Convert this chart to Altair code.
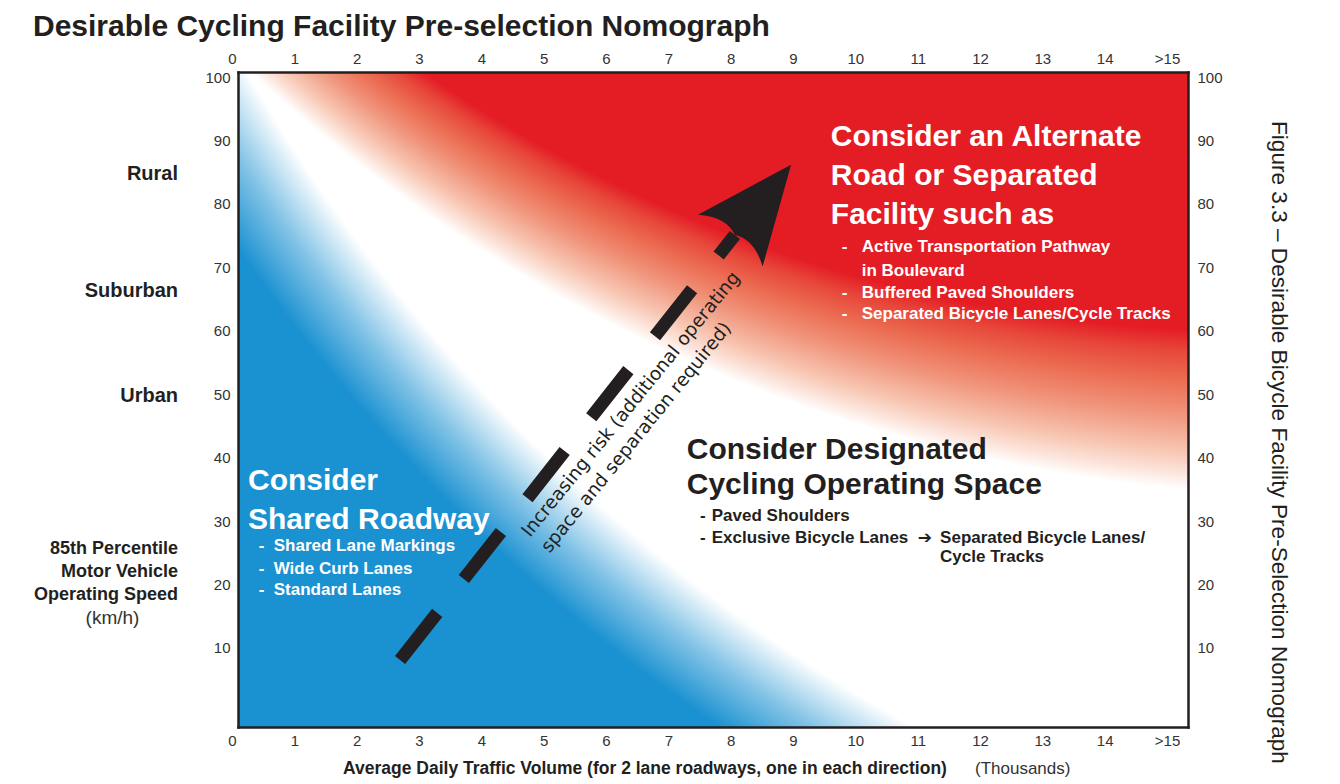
import altair as alt
import pandas as pd

# ---------------- data ----------------
x_ticks = list(range(0, 16))            # ADT, thousands (15 is shown as ">15")
y_ticks = list(range(10, 101, 10))      # 85th percentile speed, km/h

setting_names = ["Rural", "Suburban", "Urban"]
setting_speeds = [84.7, 66.3, 49.7]

arrow_adt = [2.60, 7.97]
arrow_speed = [8.10, 75.10]

risk_text = ["Increasing risk (additional operating\nspace and separation required)"]
risk_adt = [4.685]
risk_speed = [27.34]

shared_title = ["Consider", "Shared Roadway"]
shared_title_adt = [0.16, 0.16]
shared_title_speed = [36.32, 30.17]
shared_items = ["Shared Lane Markings", "Wide Curb Lanes", "Standard Lanes"]
shared_items_adt = [0.573, 0.573, 0.573]
shared_items_speed = [26.07, 22.45, 19.14]
shared_bullet_adt = [0.332, 0.332, 0.332]

alt_title = ["Consider an Alternate", "Road or Separated", "Facility such as"]
alt_title_adt = [9.51, 9.51, 9.51]
alt_title_speed = [90.47, 84.40, 78.25]
alt_items = ["Active Transportation Pathway", "in Boulevard",
             "Buffered Paved Shoulders", "Separated Bicycle Lanes/Cycle Tracks"]
alt_items_adt = [10.006, 10.006, 10.006, 10.006]
alt_items_speed = [73.25, 69.42, 66.03, 62.64]
alt_bullet_adt = [9.686, 9.686, 9.686]
alt_bullet_speed = [73.25, 66.03, 62.64]

des_title = ["Consider Designated", "Cycling Operating Space"]
des_title_adt = [7.199, 7.199]
des_title_speed = [41.21, 35.69]
des_items = ["Paved Shoulders", "Exclusive Bicycle Lanes",
             "Separated Bicycle Lanes/", "Cycle Tracks"]
des_items_adt = [7.60, 7.60, 11.263, 11.263]
des_items_speed = [30.80, 27.41, 27.41, 24.34]
des_bullet_adt = [7.412, 7.412]
des_bullet_speed = [30.80, 27.41]
des_arrow_adt = [11.02]
des_arrow_speed = [27.41]

# ---------------- styling ----------------
W, H = 950, 655
X_DOMAIN = [0, 15.24]
Y_DOMAIN = [-2.46, 100.79]
INK = "#231f20"
GREY = "#333333"
RED = "#e41d25"
BLUE = "26,145,209"
FONT = "Liberation Sans"

XS = alt.Scale(domain=X_DOMAIN, nice=False, zero=False)
YS = alt.Scale(domain=Y_DOMAIN, nice=False, zero=False)


def axis_x(orient, pad):
    return alt.Axis(orient=orient, values=x_ticks,
                    labelExpr="datum.value == 15 ? '>15' : datum.label",
                    labelOffset=-6, labelPadding=pad, labelFlush=False,
                    labelOverlap=False, ticks=False, grid=False, domain=True,
                    domainColor=INK, domainWidth=2.5, domainCap="square",
                    labelFont=FONT, labelFontSize=15, labelColor=GREY,
                    title=None, zindex=1)


def axis_y(orient, pad):
    return alt.Axis(orient=orient, values=y_ticks, labelPadding=pad,
                    labelOverlap=False, labelFlush=False, ticks=False,
                    grid=False, domain=True, domainColor=INK, domainWidth=2.5,
                    domainCap="square", labelFont=FONT, labelFontSize=15,
                    labelColor=GREY, title=None, zindex=1)


bg = pd.DataFrame({"x0": [X_DOMAIN[0]], "x1": [X_DOMAIN[1]],
                   "y0": [Y_DOMAIN[0]], "y1": [Y_DOMAIN[1]]})

# red band: nested circles (inner = solid-red edge, outer = white edge)
red_grad = alt.RadialGradient(
    gradient="radial",
    x1=1.06842, y1=-1.10579, r1=1.53368,
    x2=1.14895, y2=-1.06632, r2=1.66842,
    stops=[alt.GradientStop(offset=0, color=RED),
           alt.GradientStop(offset=0.13, color="#e7463a"),
           alt.GradientStop(offset=0.30, color="#eb6a50"),
           alt.GradientStop(offset=0.52, color="#f0937a"),
           alt.GradientStop(offset=0.75, color="#f7c4b0"),
           alt.GradientStop(offset=0.90, color="#fce6dd"),
           alt.GradientStop(offset=1, color="#ffffff")])

blue_grad = alt.RadialGradient(
    gradient="radial",
    x1=1.59684, y1=-0.75947, r1=1.83158,
    x2=1.59684, y2=-0.75947, r2=1.94,
    stops=[alt.GradientStop(offset=0, color=f"rgba({BLUE},0)"),
           alt.GradientStop(offset=0.5, color=f"rgba({BLUE},0.55)"),
           alt.GradientStop(offset=1, color=f"rgb({BLUE})")])

red_bg = alt.Chart(bg).mark_rect(fill=red_grad, strokeWidth=0).encode(
    x=alt.X("x0:Q", scale=XS, axis=axis_x("bottom", 6)), x2="x1",
    y=alt.Y("y0:Q", scale=YS, axis=axis_y("left", 8)), y2="y1")

blue_bg = alt.Chart(bg).mark_rect(fill=blue_grad, strokeWidth=0).encode(
    x=alt.X("x0:Q", scale=XS, axis=None), x2="x1",
    y=alt.Y("y0:Q", scale=YS, axis=None), y2="y1")

arrow_df = pd.DataFrame({"adt": arrow_adt, "speed": arrow_speed})
shaft = alt.Chart(arrow_df).mark_line(
    color=INK, strokeWidth=13, strokeDash=[60, 43], strokeCap="butt").encode(
    x=alt.X("adt:Q", scale=XS, axis=axis_x("top", 6)),
    y=alt.Y("speed:Q", scale=YS, axis=axis_y("right", 9)))

ARROW_PATH = "M0,-1 L0.46,0.08 Q0.2,-0.1 0,0 Q-0.2,-0.1 -0.46,0.08 Z"
head = alt.Chart(arrow_df.tail(1)).mark_point(
    shape=ARROW_PATH, size=32400, angle=38.7, filled=True, color=INK,
    opacity=1).encode(
    x=alt.X("adt:Q", scale=XS, axis=None),
    y=alt.Y("speed:Q", scale=YS, axis=None))


def text_layer(texts, xs, ys, size, color, weight="bold", align="left",
               baseline="middle", font=FONT, **kw):
    df = pd.DataFrame({"t": texts, "adt": xs, "speed": ys})
    return alt.Chart(df).mark_text(
        align=align, baseline=baseline, font=font, fontSize=size,
        fontWeight=weight, color=color, **kw).encode(
        x=alt.X("adt:Q", scale=XS, axis=None),
        y=alt.Y("speed:Q", scale=YS, axis=None),
        text="t:N")


ONE = pd.DataFrame({"k": [0]})


def pixel_text(text, px, py, size, weight="bold", color=INK, align="left",
               baseline="middle", font=FONT, **kw):
    return alt.Chart(ONE).mark_text(
        align=align, baseline=baseline, font=font, fontSize=size,
        fontWeight=weight, color=color, **kw).encode(
        x=alt.value(px), y=alt.value(py), text=alt.value(text))


layers = [
    red_bg, blue_bg, shaft, head,
    text_layer(risk_text, risk_adt, risk_speed, 18.5, INK, weight="normal",
               baseline="alphabetic", font="DejaVu Sans", angle=309,
               lineBreak="\n", lineHeight=25),
    text_layer(shared_title, shared_title_adt, shared_title_speed, 30, "white"),
    text_layer(shared_items, shared_items_adt, shared_items_speed, 17, "white"),
    text_layer(["-"] * 3, shared_bullet_adt, shared_items_speed, 17, "white"),
    text_layer(alt_title, alt_title_adt, alt_title_speed, 30, "white"),
    text_layer(alt_items, alt_items_adt, alt_items_speed, 17, "white"),
    text_layer(["-"] * 3, alt_bullet_adt, alt_bullet_speed, 17, "white"),
    text_layer(des_title, des_title_adt, des_title_speed, 30, INK),
    text_layer(des_items, des_items_adt, des_items_speed, 17, INK),
    text_layer(["-"] * 2, des_bullet_adt, des_bullet_speed, 17, INK),
    text_layer(["\u2794"], des_arrow_adt, des_arrow_speed, 17, INK,
               align="center", font="DejaVu Sans"),
    alt.Chart(pd.DataFrame({"name": setting_names, "speed": setting_speeds}))
    .mark_text(align="right", baseline="middle", font=FONT, fontSize=20,
               fontWeight="bold", color=INK)
    .encode(x=alt.value(-60), y=alt.Y("speed:Q", scale=YS, axis=None),
            text="name:N"),
    pixel_text("Desirable Cycling Facility Pre-selection Nomograph", -205, -36.5,
               30, baseline="alphabetic"),
    pixel_text("85th Percentile", -60, 477, 18, align="right"),
    pixel_text("Motor Vehicle", -60, 500, 18, align="right"),
    pixel_text("Operating Speed", -60, 523, 18, align="right"),
    pixel_text("(km/h)", -125.5, 546, 19, weight="normal", color=GREY,
               align="center"),
    pixel_text("Average Daily Traffic Volume (for 2 lane roadways, one in each direction)",
               105, 697, 17.5),
    pixel_text("(Thousands)", 737, 697, 17, weight="normal", color=GREY),
    pixel_text("Figure 3.3 \u2013 Desirable Bicycle Facility Pre-Selection Nomograph",
               1034, 49, 22.6, weight="normal", baseline="alphabetic", angle=90),
]

chart = (
    alt.layer(*layers)
    .resolve_axis(x="independent", y="independent")
    .properties(width=W, height=H,
                autosize=alt.AutoSizeParams(type="none"),
                padding={"left": 230, "top": 64, "right": 130, "bottom": 56})
    .configure_view(strokeWidth=0)
)

chart.save("out.html", embed_options={"renderer": "svg", "actions": False})
